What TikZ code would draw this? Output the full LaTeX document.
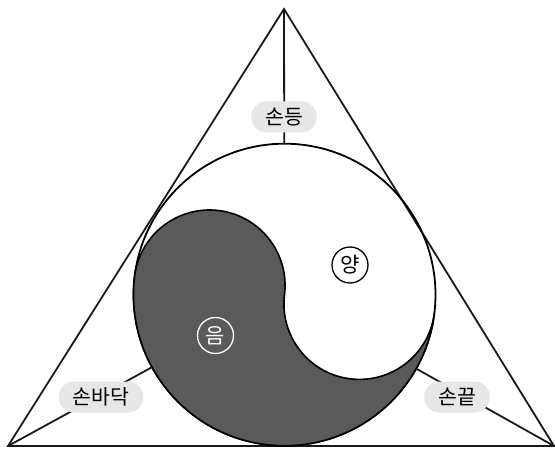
\documentclass[tikz,border=0pt]{standalone}
\usepackage{fontspec}
\newfontfamily\kr{Noto Sans CJK KR}
\definecolor{pillbg}{RGB}{229,232,228}
\definecolor{yinc}{RGB}{90,90,90}
\begin{document}
\begin{tikzpicture}[x=1pt,y=1pt,
  edge/.style={line width=1.8pt, draw=black!90},
  pill/.style={fill=pillbg, rounded corners=15.5pt, minimum height=31pt, inner xsep=14pt, font=\kr\fontsize{20.5}{20.5}\selectfont},
  badge/.style={circle, draw, line width=1.3pt, minimum size=36pt, inner sep=0pt, font=\kr\fontsize{21}{21}\selectfont}]
\useasboundingbox (0,0) rectangle (555,448);
\fill[white] (0,0) rectangle (555,448);
\coordinate (A) at (284,439);
\coordinate (BL) at (8,2);
\coordinate (BR) at (554,2);
\coordinate (O) at (284.5,153.3);
\draw[edge, line join=miter] (A) -- (BL) -- (BR) -- cycle;
\node[circle, minimum size=302pt, inner sep=0pt, line width=1.8pt, draw] (yy) at (O) {};
\begin{scope}[shift={(O)}, rotate=-7]
\fill[yinc, draw=black, line width=1.6pt, line join=round] (-151,0) arc[start angle=180,end angle=360,radius=151] arc[start angle=0,end angle=-180,radius=75.5] arc[start angle=0,end angle=180,radius=75.5] -- cycle;
\end{scope}
\draw[edge] (A) -- (yy);
\draw[edge] (BL) -- (yy);
\draw[edge] (BR) -- (yy);
\node[pill] (top) at (284,331) {손등};
\node[pill] (palm) at (101,51) {손바닥};
\node[pill] (tip) at (457,51) {손끝};
\node[badge] (yang) at (350,183) {양};
\node[badge, draw=white, text=white] (eum) at (215.5,112.5) {음};
\end{tikzpicture}
\end{document}
